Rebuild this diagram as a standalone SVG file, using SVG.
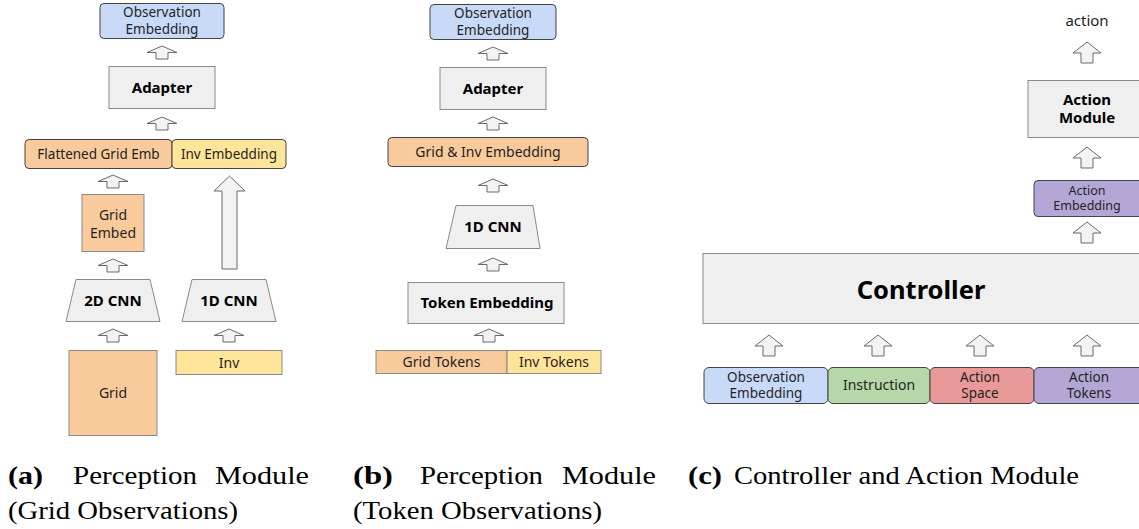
<svg xmlns="http://www.w3.org/2000/svg" xmlns:xlink="http://www.w3.org/1999/xlink" width="1139" height="529" viewBox="0 0 1139 529">
<defs>
<style>
.t{font-family:"Noto Sans","Liberation Sans",sans-serif;fill:#1f1f1f;text-anchor:middle}
.b{font-weight:bold;fill:#000}
.r{stroke:#434343;stroke-width:1}
.s{stroke:#8a8a8a;stroke-width:1}
.blue{fill:#c9daf8}.orange{fill:#f9cb9c}.yellow{fill:#ffe599}.gray{fill:#efefef}.green{fill:#b6d7a8}.red{fill:#ea9999}.purple{fill:#b4a7d6}
.arr{fill:#f3f3f3;stroke:#6b6b6b;stroke-width:1;stroke-linejoin:miter}
.cap{font-family:"Liberation Serif","Times New Roman",serif;font-size:26px;fill:#000}
</style>
<path id="aS" d="M0,0 L15,6.5 L6,6.5 L6,13 L-6,13 L-6,6.5 L-15,6.5 Z"/>
<path id="aL" d="M0,0 L14,11 L6,11 L6,21 L-6,21 L-6,11 L-14,11 Z"/>
</defs>
<rect width="1139" height="529" fill="#fff"/>

<!-- (a) -->
<g id="a-obs"><rect class="blue r" x="100" y="3.5" width="124" height="35" rx="4"/><text class="t" x="162" y="17" font-size="13.5">Observation</text><text class="t" x="162" y="33.5" font-size="13.5">Embedding</text></g>
<g id="a-adapter"><rect class="gray s" x="109" y="66.5" width="106" height="42"/><text class="t b" x="162" y="92.5" font-size="15">Adapter</text></g>
<g id="a-flat"><rect class="orange r" x="25" y="139.5" width="147" height="29" rx="4"/><text class="t" x="98.5" y="158.5" font-size="13.5">Flattened Grid Emb</text></g>
<g id="a-invemb"><rect class="yellow r" x="172" y="139.5" width="114" height="29" rx="4"/><text class="t" x="229" y="158.5" font-size="13.5">Inv Embedding</text></g>
<g id="a-gridembed"><rect class="orange s" x="82" y="194.5" width="62" height="57"/><text class="t" x="113" y="219.5" font-size="14">Grid</text><text class="t" x="113" y="237.5" font-size="14">Embed</text></g>
<g id="a-2dcnn"><polygon class="gray s" points="76,279.5 150,279.5 160,321.5 66,321.5"/><text class="t b" x="113" y="305.5" font-size="15">2D CNN</text></g>
<g id="a-1dcnn"><polygon class="gray s" points="192,279.5 266,279.5 276,321.5 182,321.5"/><text class="t b" x="229" y="305.5" font-size="15">1D CNN</text></g>
<g id="a-grid"><rect class="orange s" x="69" y="350.5" width="88" height="85"/><text class="t" x="113" y="398" font-size="14">Grid</text></g>
<g id="a-inv"><rect class="yellow s" x="176" y="350.5" width="106" height="24"/><text class="t" x="229" y="367.5" font-size="14">Inv</text></g>

<!-- (b) -->
<g id="b-obs"><rect class="blue r" x="430" y="4.5" width="126" height="35" rx="4"/><text class="t" x="493" y="18" font-size="13.5">Observation</text><text class="t" x="493" y="34.5" font-size="13.5">Embedding</text></g>
<g id="b-adapter"><rect class="gray s" x="440" y="67.5" width="106" height="42"/><text class="t b" x="493" y="93.5" font-size="15">Adapter</text></g>
<g id="b-gie"><rect class="orange r" x="388" y="137.5" width="200" height="29" rx="4"/><text class="t" x="488" y="156.5" font-size="14">Grid &amp; Inv Embedding</text></g>
<g id="b-1dcnn"><polygon class="gray s" points="456,205.5 533,205.5 540,248.5 446,248.5"/><text class="t b" x="493" y="232" font-size="15">1D CNN</text></g>
<g id="b-tokemb"><rect class="gray s" x="408" y="282.5" width="156" height="41"/><text class="t b" x="487" y="308" font-size="15">Token Embedding</text></g>
<g id="b-gridtok"><rect class="orange s" x="376" y="350.5" width="131" height="23"/><text class="t" x="441.5" y="367" font-size="14">Grid Tokens</text></g>
<g id="b-invtok"><rect class="yellow s" x="507" y="350.5" width="94" height="23"/><text class="t" x="554" y="367" font-size="14">Inv Tokens</text></g>

<!-- (c) -->
<g id="c-action"><text class="t" x="1087" y="26" font-size="15">action</text></g>
<g id="c-actmod"><rect class="gray s" x="1028" y="80.5" width="120" height="57"/><text class="t b" x="1087" y="105" font-size="15">Action</text><text class="t b" x="1087" y="123" font-size="15">Module</text></g>
<g id="c-actemb"><rect class="purple r" x="1034" y="180.5" width="112" height="36" rx="4"/><text class="t" x="1087" y="194.5" font-size="12.5">Action</text><text class="t" x="1087" y="209.5" font-size="12.5">Embedding</text></g>
<g id="c-controller"><rect class="gray s" x="703" y="253.5" width="445" height="70"/><text class="t b" x="921" y="299" font-size="25.5">Controller</text></g>
<g id="c-obs"><rect class="blue r" x="704" y="367.5" width="124" height="36" rx="5"/><text class="t" x="766" y="381.5" font-size="13.5">Observation</text><text class="t" x="766" y="398" font-size="13.5">Embedding</text></g>
<g id="c-instr"><rect class="green r" x="828" y="367.5" width="102" height="36" rx="5"/><text class="t" x="879" y="390" font-size="14">Instruction</text></g>
<g id="c-space"><rect class="red r" x="930" y="367.5" width="104" height="36" rx="5"/><text class="t" x="980" y="381.5" font-size="13.5">Action</text><text class="t" x="980" y="398" font-size="13.5">Space</text></g>
<g id="c-tokens"><rect class="purple r" x="1034" y="367.5" width="112" height="36" rx="5"/><text class="t" x="1089" y="381.5" font-size="13.5">Action</text><text class="t" x="1089" y="398" font-size="13.5">Tokens</text></g>

<g id="connectors">
<use href="#aS" class="arr" x="162" y="46"/>
<use href="#aS" class="arr" x="162" y="117"/>
<use href="#aS" class="arr" x="113" y="175"/>
<use href="#aS" class="arr" x="113" y="259"/>
<use href="#aS" class="arr" x="113" y="329"/>
<use href="#aS" class="arr" x="229" y="329"/>
<path class="arr" d="M229.5,176 L245,191 L237,191 L237,269 L222,269 L222,191 L214,191 Z"/>
<use href="#aS" class="arr" x="493" y="47"/>
<use href="#aS" class="arr" x="493" y="117"/>
<use href="#aS" class="arr" x="493" y="179"/>
<use href="#aS" class="arr" x="493" y="258"/>
<use href="#aS" class="arr" x="489" y="329"/>
<use href="#aL" class="arr" x="1087" y="42"/>
<use href="#aL" class="arr" x="1087" y="147"/>
<use href="#aL" class="arr" x="1087" y="222"/>
<use href="#aL" class="arr" x="769" y="335"/>
<use href="#aL" class="arr" x="878" y="335"/>
<use href="#aL" class="arr" x="980" y="335"/>
<use href="#aL" class="arr" x="1087" y="335"/>
</g>

<g id="captions">
<text class="cap" font-weight="bold" x="8" y="484" textLength="35" lengthAdjust="spacingAndGlyphs">(a)</text>
<text class="cap" x="73" y="484" textLength="124" lengthAdjust="spacingAndGlyphs">Perception</text>
<text class="cap" x="215" y="484" textLength="94" lengthAdjust="spacingAndGlyphs">Module</text>
<text class="cap" x="8" y="519" textLength="230" lengthAdjust="spacingAndGlyphs">(Grid Observations)</text>
<text class="cap" font-weight="bold" x="353" y="484" textLength="40" lengthAdjust="spacingAndGlyphs">(b)</text>
<text class="cap" x="420" y="484" textLength="123" lengthAdjust="spacingAndGlyphs">Perception</text>
<text class="cap" x="562" y="484" textLength="94" lengthAdjust="spacingAndGlyphs">Module</text>
<text class="cap" x="353" y="519" textLength="249" lengthAdjust="spacingAndGlyphs">(Token Observations)</text>
<text class="cap" font-weight="bold" x="688" y="484" textLength="34" lengthAdjust="spacingAndGlyphs">(c)</text>
<text class="cap" x="734" y="484" textLength="345" lengthAdjust="spacingAndGlyphs">Controller and Action Module</text>
</g>
</svg>
